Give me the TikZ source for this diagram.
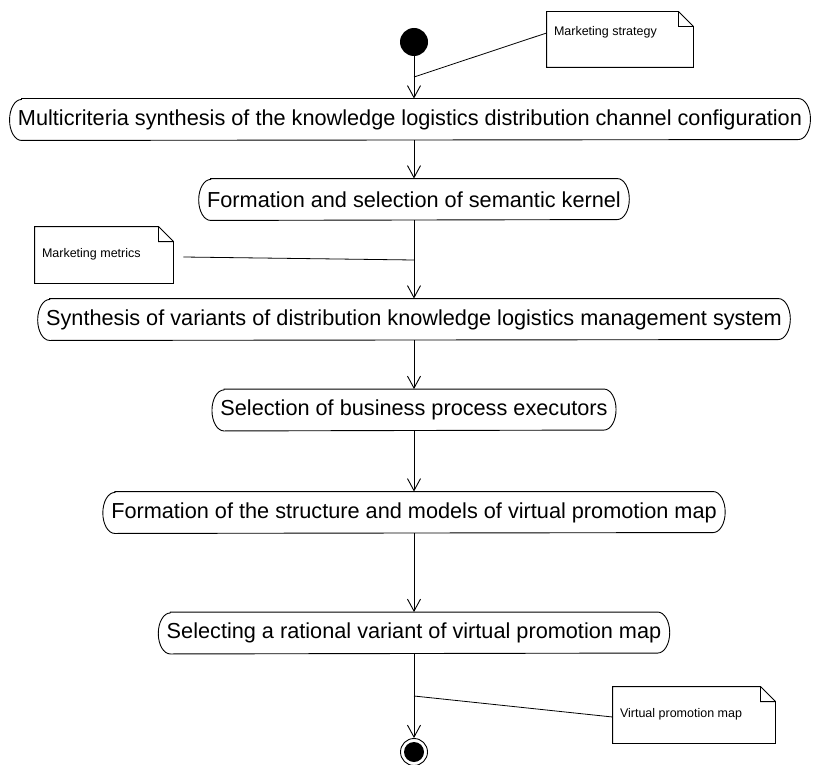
\documentclass[tikz,border=0pt]{standalone}
\usepackage{fontspec}
\setmainfont{Liberation Sans}
\usetikzlibrary{arrows.meta}
\begin{document}
\begin{tikzpicture}[x=1pt,y=-1pt,
  line width=0.9pt,
  act/.style={inner xsep=8pt, inner ysep=0pt, minimum height=41pt,
    font=\fontsize{21.7}{25}\selectfont},
  flow/.style={-{Straight Barb[length=12pt,width=13pt]}},
  notebox/.style={inner sep=0pt},
  notetext/.style={anchor=west, inner sep=0pt, font=\fontsize{12.5}{14}\selectfont},
  link/.style={line width=0.8pt}]
\useasboundingbox (0,0) rectangle (814,765);

% initial and final states
\node[circle, fill, minimum size=28pt, inner sep=0pt] (st) at (414,42) {};
\node[circle, draw, fill=white, minimum size=27pt, inner sep=0pt] (fin) at (414,752) {};
\fill (fin.center) circle (10pt);

% activities
\node[act] (a1) at (410,119.5) {Multicriteria synthesis of the knowledge logistics distribution channel configuration};
\node[act] (a2) at (414,199.5) {Formation and selection of semantic kernel};
\node[act] (a3) at (414,319.5) {Synthesis of variants of distribution knowledge logistics management system};
\node[act] (a4) at (414,410) {Selection of business process executors};
\node[act] (a5) at (414,512.5) {Formation of the structure and models of virtual promotion map};
\node[act] (a6) at (414,633) {Selecting a rational variant of virtual promotion map};

\foreach \n in {a1,a2,a3,a4,a5,a6}
  \draw ([xshift=12pt]\n.north west) -- ([xshift=-12pt]\n.north east)
    arc[start angle=90, end angle=-90, x radius=12pt, y radius=20.5pt]
    -- ([xshift=12pt]\n.south west)
    arc[start angle=270, end angle=90, x radius=12pt, y radius=20.5pt] -- cycle;

% notes
\node[notebox, minimum width=146pt, minimum height=55pt] (ms) at (620,39.5) {};
\node[notebox, minimum width=138pt, minimum height=56pt] (mm) at (104,255) {};
\node[notebox, minimum width=162pt, minimum height=56pt] (vpm) at (694,715) {};
\foreach \n in {ms,mm,vpm}
  \draw (\n.north west) -- ([xshift=-15pt]\n.north east) -- ([yshift=-15pt]\n.north east)
    -- (\n.south east) -- (\n.south west) -- cycle
    ([xshift=-15pt]\n.north east) -- ([xshift=-15pt,yshift=-15pt]\n.north east)
    -- ([yshift=-15pt]\n.north east);
\node[notetext] (mst) at ([xshift=7pt,yshift=-21pt]ms.north west) {Marketing strategy};
\node[notetext] (mmt) at ([xshift=7pt,yshift=-28pt]mm.north west) {Marketing metrics};
\node[notetext] (vpmt) at ([xshift=7pt,yshift=-28pt]vpm.north west) {Virtual promotion map};

% control flow
\draw[flow] (st) -- (a1.north -| st);
\draw[flow] (a1.south -| st) -- (a2.north);
\draw[flow] (a2.south) -- (a3.north);
\draw[flow] (a3.south) -- (a4.north);
\draw[flow] (a4.south) -- (a5.north);
\draw[flow] (a5.south) -- (a6.north);
\draw[flow] (a6.south) -- (fin.north);

% note attachments
\coordinate (j1) at (414,77);
\coordinate (j2) at (414,260);
\coordinate (j3) at (414,696);
\draw[link] (j1) -- ([yshift=6.5pt]ms.west);
\draw[link] ([xshift=10pt,yshift=-2pt]mm.east) -- (j2);
\draw[link] (j3) -- ([yshift=-2pt]vpm.west);
\end{tikzpicture}
\end{document}
